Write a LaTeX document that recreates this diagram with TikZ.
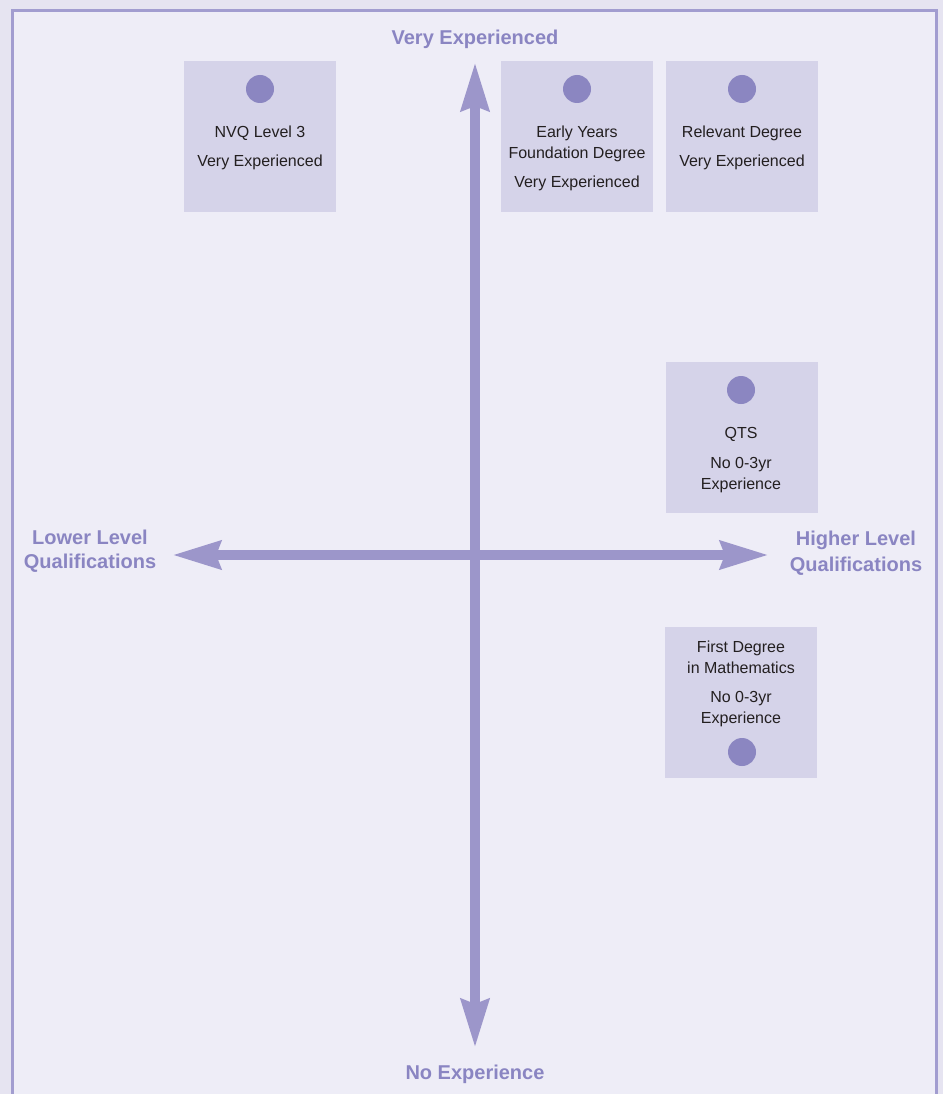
\documentclass[tikz,border=0pt]{standalone}
\usepackage{fontspec}
\setmainfont{Liberation Sans}
\usetikzlibrary{arrows.meta}
\definecolor{outerbg}{HTML}{E6E4F1}
\definecolor{innerbg}{HTML}{EEEDF7}
\definecolor{framec}{HTML}{A29DD0}
\definecolor{boxc}{HTML}{D5D3E9}
\definecolor{dotc}{HTML}{8B86C1}
\definecolor{axisc}{HTML}{9C96CA}
\definecolor{labelc}{HTML}{8A85C2}
\definecolor{textc}{HTML}{231F20}
\begin{document}
\begin{tikzpicture}[x=1pt,y=-1pt,
  qbox/.style={rectangle,fill=boxc,draw=none,minimum width=152pt,minimum height=151pt,inner sep=0pt},
  qdot/.style={circle,fill=dotc,draw=none,minimum size=28pt,inner sep=0pt},
  btxt/.style={anchor=base,inner sep=0pt,text=textc,font=\fontsize{16}{19}\selectfont},
  axlabel/.style={anchor=base,inner sep=0pt,text=labelc,font=\fontsize{20}{24}\selectfont\bfseries},
  axisline/.style={draw=axisc,line width=10.5pt,{Stealth[length=48pt,width=27pt,inset=4pt]}-{Stealth[length=48pt,width=27pt,inset=4pt]}}]
\useasboundingbox (0,0) rectangle (943,1094);
\fill[outerbg] (0,0) rectangle (943,1094);
\fill[innerbg] (12,11) rectangle (936,1100);
\draw[framec,line width=3pt] (12,1100) -- (12,11) -- (936,11) -- (936,1100);

% axes
\coordinate (top) at (475,62);
\coordinate (bottom) at (475,1048);
\coordinate (left) at (172,555);
\coordinate (right) at (769,555);
\draw[axisline] (left) -- (right);
\draw[axisline] (bottom) -- (top);

% axis labels
\node[axlabel] (ve) at (475,45) {Very Experienced};
\node[axlabel] (ne) at (475,1079) {No Experience};
\node[axlabel] (ll1) at (90,544) {Lower Level};
\node[axlabel] (ll2) at (90,568) {Qualifications};
\node[axlabel] (hl1) at (856,545) {Higher Level};
\node[axlabel] (hl2) at (856,571) {Qualifications};

% boxes
\node[qbox] (nvq) at (260,136.5) {};
\node[qbox] (eyf) at (577,136.5) {};
\node[qbox] (rel) at (742,136.5) {};
\node[qbox] (qts) at (742,437) {};
\node[qbox] (fdm) at (741,702.5) {};

% dots
\node[qdot] (d1) at (260,89) {};
\node[qdot] (d2) at (577,89) {};
\node[qdot] (d3) at (742,89) {};
\node[qdot] (d4) at (741,390) {};
\node[qdot] (d5) at (742,752) {};

% texts
\node[btxt] (t1a) at (260,138) {NVQ Level 3};
\node[btxt] (t1b) at (260,167) {Very Experienced};
\node[btxt] (t2a) at (577,138) {Early Years};
\node[btxt] (t2b) at (577,159) {Foundation Degree};
\node[btxt] (t2c) at (577,188) {Very Experienced};
\node[btxt] (t3a) at (742,138) {Relevant Degree};
\node[btxt] (t3b) at (742,167) {Very Experienced};
\node[btxt] (t4a) at (741,438) {QTS};
\node[btxt] (t4b) at (741,468) {No 0-3yr};
\node[btxt] (t4c) at (741,489) {Experience};
\node[btxt] (t5a) at (741,652) {First Degree};
\node[btxt] (t5b) at (741,673) {in Mathematics};
\node[btxt] (t5c) at (741,702) {No 0-3yr};
\node[btxt] (t5d) at (741,723) {Experience};
\end{tikzpicture}
\end{document}
